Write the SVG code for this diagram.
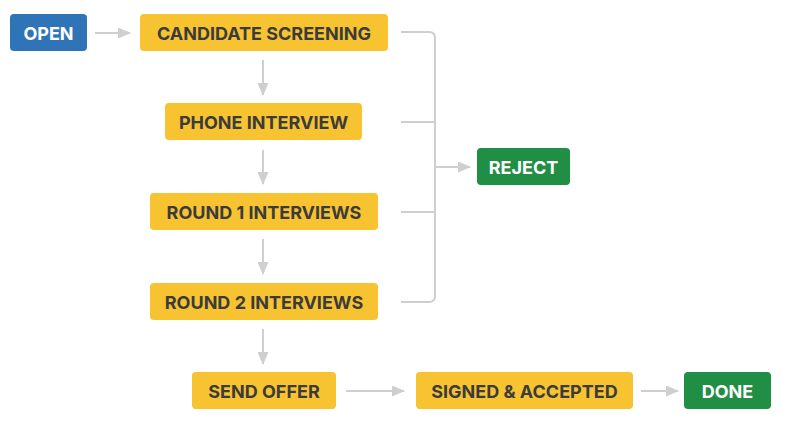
<svg xmlns="http://www.w3.org/2000/svg" width="786" height="432" viewBox="0 0 786 432">
<style>
.n{stroke:none}
.y{fill:#f7c331}
.b{fill:#2e74b7}
.g{fill:#218e45}
.t{font-family:Inter,"Open Sans","Liberation Sans",sans-serif;font-weight:700;font-size:18px;text-anchor:middle;dominant-baseline:central}
.dk{fill:#3b3b3b}
.wh{fill:#ffffff}
.c{stroke:#cfcfcf;stroke-width:2;fill:none}
</style>
<defs>
<marker id="ah" markerWidth="13" markerHeight="11" refX="12" refY="5.5" orient="auto" markerUnits="userSpaceOnUse">
<path d="M0,0 L13,5.5 L0,11 Z" fill="#cfcfcf"/>
</marker>
</defs>
<g id="connectors">
<line class="c" x1="95" y1="33" x2="130" y2="33" marker-end="url(#ah)"/>
<line class="c" x1="263" y1="60" x2="263" y2="95" marker-end="url(#ah)"/>
<line class="c" x1="263" y1="150" x2="263" y2="184" marker-end="url(#ah)"/>
<line class="c" x1="263" y1="239" x2="263" y2="274" marker-end="url(#ah)"/>
<line class="c" x1="263" y1="329" x2="263" y2="364" marker-end="url(#ah)"/>
<line class="c" x1="346" y1="391" x2="404" y2="391" marker-end="url(#ah)"/>
<line class="c" x1="641" y1="391" x2="678" y2="391" marker-end="url(#ah)"/>
<path class="c" d="M401,32 H429 Q435,32 435,38 V296 Q435,302 429,302 H401"/>
<line class="c" x1="401" y1="122" x2="435" y2="122"/>
<line class="c" x1="401" y1="212" x2="435" y2="212"/>
<line class="c" x1="435" y1="167" x2="470" y2="167" marker-end="url(#ah)"/>
</g>
<g id="open"><rect class="n b" x="10" y="14" width="77" height="37" rx="4"/><text class="t wh" x="48.5" y="33">OPEN</text></g>
<g id="screening"><rect class="n y" x="140" y="14" width="248" height="37" rx="4"/><text class="t dk" x="264" y="33">CANDIDATE SCREENING</text></g>
<g id="phone"><rect class="n y" x="165" y="103" width="197" height="37" rx="4"/><text class="t dk" x="263.5" y="122">PHONE INTERVIEW</text></g>
<g id="round1"><rect class="n y" x="150" y="193" width="228" height="37" rx="4"/><text class="t dk" x="264" y="212">ROUND 1 INTERVIEWS</text></g>
<g id="round2"><rect class="n y" x="150" y="283" width="228" height="37" rx="4"/><text class="t dk" x="264" y="302">ROUND 2 INTERVIEWS</text></g>
<g id="reject"><rect class="n g" x="477" y="148" width="93" height="37" rx="4"/><text class="t wh" x="523.5" y="167">REJECT</text></g>
<g id="sendoffer"><rect class="n y" x="192" y="372" width="144" height="37" rx="4"/><text class="t dk" x="264" y="391">SEND OFFER</text></g>
<g id="signed"><rect class="n y" x="416" y="372" width="217" height="37" rx="4"/><text class="t dk" x="524.5" y="391">SIGNED &amp; ACCEPTED</text></g>
<g id="done"><rect class="n g" x="684" y="372" width="87" height="37" rx="4"/><text class="t wh" x="727.5" y="391">DONE</text></g>
</svg>
